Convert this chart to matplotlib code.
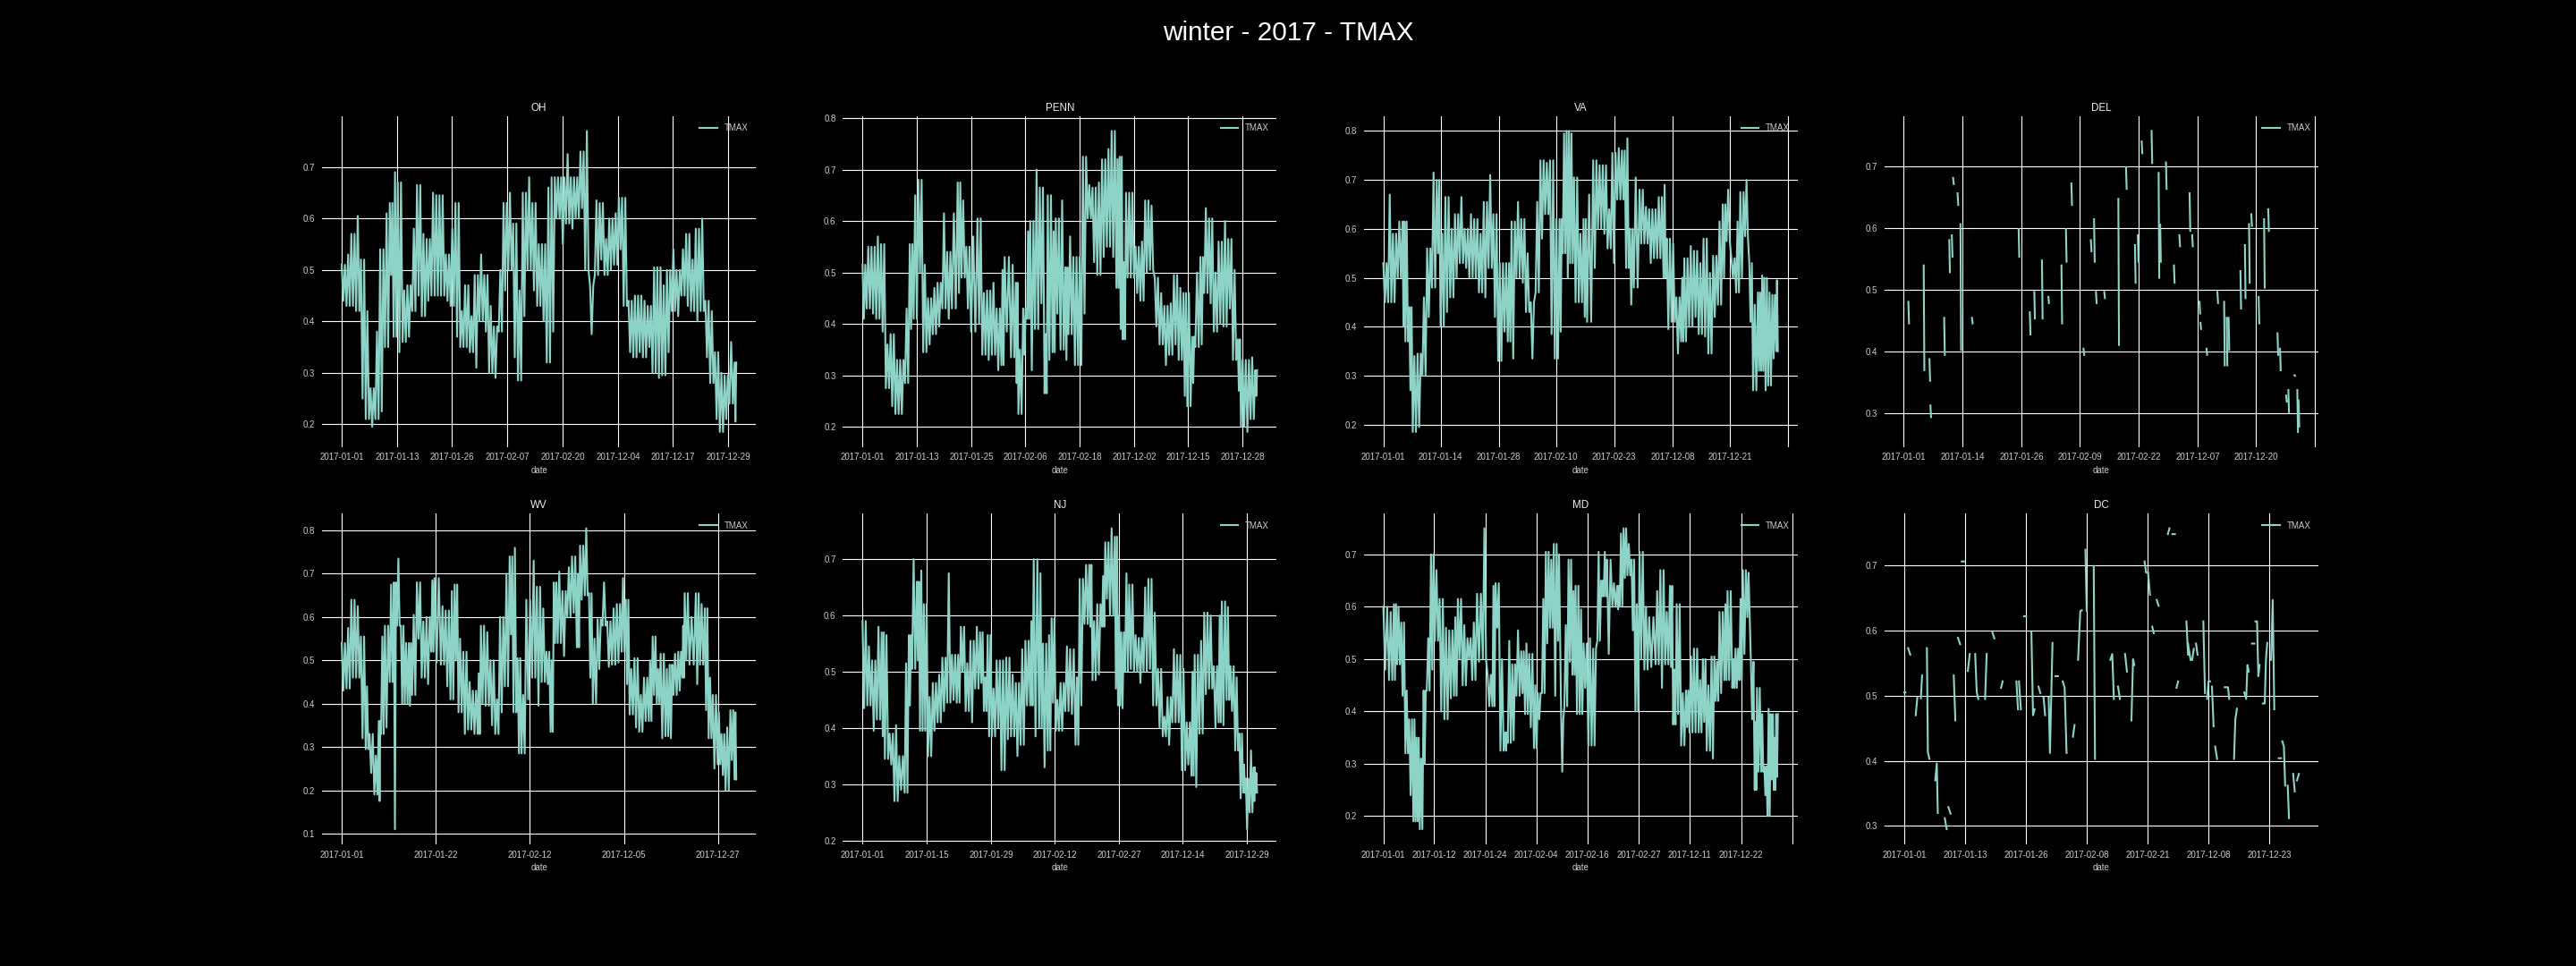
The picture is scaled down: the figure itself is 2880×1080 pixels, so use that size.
import numpy as np
import matplotlib
matplotlib.use('Agg')
import matplotlib.pyplot as plt

# dense panels: row numbers with the high and low value read around each row
oh_rows = [175,190,205,220,235,250,265,280,295,310,325,337,350,365,380,395,410,425,440,455,470,485,500,515,530,545,560,575,590,605,620,635,650,665,680,695,710,725,740,755,770,785,800,815,830,845,860,875,890,905,920,935,950,965,980,995,1010,1025,1040,1055,1070,1085,1100,1115,1130,1145,1160,1175,1190,1205,1220,1235,1250,1265,1280,1295,1310,1325,1340,1355,1370,1385,1401]
oh_high = [.51,.53,.57,.605,.52,.42,.27,.38,.54,.61,.63,.69,.67,.46,.47,.58,.665,.57,.56,.65,.645,.645,.53,.58,.63,.42,.47,.41,.49,.53,.49,.43,.39,.50,.63,.65,.59,.46,.65,.68,.63,.55,.55,.66,.68,.68,.68,.725,.68,.68,.73,.77,.47,.635,.63,.56,.60,.61,.64,.64,.44,.45,.45,.44,.43,.505,.505,.47,.50,.54,.50,.54,.57,.52,.58,.60,.44,.42,.34,.30,.295,.36,.32]
oh_low = [.44,.43,.43,.42,.25,.21,.195,.21,.225,.35,.49,.37,.34,.36,.37,.42,.45,.41,.44,.45,.45,.45,.44,.43,.37,.35,.35,.34,.31,.40,.38,.30,.29,.38,.46,.50,.33,.285,.41,.50,.46,.43,.40,.32,.38,.60,.55,.59,.58,.60,.62,.50,.375,.49,.52,.49,.50,.51,.54,.43,.34,.33,.34,.33,.35,.30,.29,.295,.34,.42,.41,.45,.43,.42,.40,.42,.33,.28,.21,.185,.21,.24,.205]
oh_ticks = [175,348,519,692,864,1037,1208,1381]
oh_labels = ['2017-01-01','2017-01-13','2017-01-26','2017-02-07','2017-02-20','2017-12-04','2017-12-17','2017-12-29']

penn_rows = [180,193,208,223,238,253,268,283,298,313,328,340,355,370,385,400,415,430,445,460,478,490,505,520,540,555,570,585,600,615,625,645,660,668,683,695,705,720,735,750,760,775,785,800,815,825,840,855,870,885,900,915,930,945,960,975,985,995,1005,1020,1035,1050,1065,1080,1095,1110,1125,1140,1155,1170,1185,1197,1212,1222,1238,1250,1265,1280,1295,1310,1325,1340,1355,1365,1380,1395,1410]
penn_high = [.515,.55,.55,.57,.555,.36,.38,.33,.33,.43,.555,.65,.68,.515,.45,.47,.48,.615,.54,.615,.675,.64,.55,.57,.605,.46,.465,.48,.43,.505,.53,.515,.48,.35,.43,.58,.60,.70,.665,.38,.65,.58,.605,.64,.51,.57,.53,.53,.725,.67,.665,.675,.72,.74,.775,.72,.725,.52,.655,.655,.55,.56,.64,.63,.49,.46,.435,.44,.495,.47,.46,.46,.375,.50,.53,.625,.605,.50,.56,.60,.565,.505,.37,.33,.33,.335,.31]
penn_low = [.41,.43,.42,.41,.385,.275,.24,.225,.225,.285,.39,.41,.50,.345,.36,.38,.395,.43,.41,.43,.46,.49,.43,.385,.40,.34,.33,.34,.31,.32,.385,.335,.285,.225,.34,.41,.31,.39,.44,.265,.33,.345,.42,.35,.33,.38,.32,.32,.42,.605,.52,.495,.53,.55,.53,.47,.39,.37,.49,.49,.46,.445,.50,.505,.395,.36,.32,.34,.36,.33,.26,.24,.285,.355,.36,.46,.44,.385,.40,.395,.43,.33,.27,.20,.19,.215,.26]
penn_ticks = [180,351,522,690,860,1031,1199,1370]
penn_labels = ['2017-01-01','2017-01-13','2017-01-25','2017-02-06','2017-02-18','2017-12-02','2017-12-15','2017-12-28']

va_rows = [189,204,219,234,249,258,270,281,296,311,326,341,356,368,383,398,413,428,443,458,473,488,503,518,533,548,563,578,590,605,620,635,650,665,680,695,710,725,740,750,762,773,785,800,815,826,845,860,875,890,905,920,935,948,960,972,990,1005,1020,1035,1050,1065,1075,1090,1105,1120,1130,1145,1160,1175,1190,1205,1220,1235,1250,1262,1277,1292,1305,1320,1333,1345,1360,1370,1380,1392,1405,1417]
va_high = [.53,.67,.59,.615,.615,.615,.44,.34,.345,.46,.56,.715,.70,.59,.665,.60,.63,.665,.60,.63,.62,.59,.655,.71,.63,.53,.53,.53,.615,.655,.62,.55,.45,.655,.74,.735,.74,.62,.62,.795,.80,.795,.705,.59,.62,.67,.74,.73,.73,.64,.755,.765,.76,.785,.60,.705,.68,.645,.64,.64,.665,.69,.58,.57,.46,.50,.54,.565,.555,.53,.58,.51,.545,.615,.65,.68,.54,.615,.675,.70,.53,.445,.47,.505,.50,.47,.465,.495]
va_low = [.45,.45,.45,.50,.40,.37,.27,.185,.195,.30,.42,.48,.55,.40,.43,.46,.50,.53,.52,.50,.50,.47,.46,.52,.42,.33,.39,.37,.335,.50,.49,.43,.335,.47,.58,.63,.385,.335,.39,.55,.50,.53,.45,.45,.42,.41,.52,.60,.59,.56,.53,.66,.66,.52,.445,.48,.57,.57,.53,.54,.54,.50,.395,.41,.345,.37,.37,.40,.42,.385,.38,.345,.42,.445,.50,.575,.50,.47,.50,.585,.41,.27,.31,.31,.27,.28,.335,.35]
va_ticks = [189,368,550,729,911,1093,1273,1454]
va_labels = ['2017-01-01','2017-01-14','2017-01-28','2017-02-10','2017-02-23','2017-12-08','2017-12-21','']

wv_rows = [175,190,205,220,235,250,262,277,291,298,310,325,338,348,360,372,385,395,410,425,440,455,465,485,500,515,528,540,555,570,585,600,610,625,640,655,670,685,700,712,725,737,752,770,785,800,815,828,838,850,865,880,895,910,920,935,948,960,975,990,1005,1020,1035,1050,1063,1075,1090,1105,1120,1135,1147,1160,1172,1187,1200,1212,1227,1240,1247,1262,1282,1295,1310,1322,1335,1350,1362,1375,1390,1403]
wv_high = [.54,.575,.64,.625,.555,.44,.33,.28,.36,.555,.58,.675,.68,.735,.58,.54,.54,.605,.68,.59,.60,.685,.69,.625,.615,.66,.675,.55,.52,.45,.43,.47,.58,.565,.50,.41,.60,.70,.74,.76,.505,.42,.64,.73,.67,.62,.52,.50,.68,.705,.66,.715,.74,.70,.765,.805,.655,.55,.595,.68,.59,.62,.63,.69,.64,.48,.505,.42,.46,.50,.555,.48,.515,.48,.49,.515,.52,.58,.655,.60,.655,.63,.62,.46,.42,.38,.33,.345,.385,.38]
wv_low = [.43,.435,.46,.46,.32,.295,.24,.19,.175,.33,.345,.45,.11,.58,.40,.40,.395,.42,.55,.46,.445,.52,.495,.49,.44,.41,.50,.38,.33,.34,.33,.33,.40,.395,.35,.33,.38,.44,.56,.38,.285,.285,.41,.46,.395,.45,.445,.335,.54,.54,.51,.60,.61,.53,.64,.65,.46,.40,.48,.58,.485,.49,.495,.52,.445,.375,.345,.335,.36,.36,.42,.40,.32,.325,.32,.42,.43,.46,.50,.49,.445,.49,.385,.32,.25,.26,.235,.20,.27,.225]
wv_ticks = [175,469,763,1057,1351]
wv_labels = ['2017-01-01','2017-01-22','2017-02-12','2017-12-05','2017-12-27']

nj_rows = [180,195,210,225,240,250,265,280,295,312,325,335,350,360,372,385,400,415,430,445,460,475,488,503,518,533,548,560,572,585,600,615,630,645,660,675,690,705,716,733,745,760,772,785,800,815,830,847,860,875,890,900,915,930,940,955,970,980,990,1002,1015,1030,1045,1060,1075,1090,1105,1120,1135,1150,1165,1180,1195,1210,1220,1235,1250,1265,1280,1295,1305,1320,1332,1347,1360,1372,1380,1392,1405,1410]
nj_high = [.59,.545,.52,.58,.57,.565,.39,.405,.35,.515,.565,.70,.66,.68,.62,.455,.48,.495,.525,.675,.53,.53,.58,.515,.555,.58,.57,.49,.565,.47,.52,.52,.525,.495,.48,.54,.555,.59,.70,.675,.55,.565,.595,.45,.48,.545,.54,.49,.665,.69,.69,.59,.62,.67,.73,.755,.74,.60,.57,.675,.655,.565,.56,.65,.665,.605,.505,.42,.455,.54,.53,.505,.41,.50,.53,.555,.605,.60,.51,.60,.625,.615,.51,.49,.39,.335,.31,.36,.33,.32]
nj_low = [.435,.44,.395,.415,.385,.345,.335,.27,.29,.285,.44,.505,.52,.395,.395,.35,.395,.41,.43,.445,.45,.445,.50,.43,.41,.47,.48,.43,.385,.385,.40,.325,.38,.385,.35,.37,.44,.44,.385,.40,.33,.36,.445,.395,.395,.43,.425,.37,.44,.585,.58,.485,.495,.58,.63,.60,.47,.44,.435,.50,.505,.50,.48,.50,.505,.44,.40,.385,.37,.41,.41,.325,.335,.315,.295,.39,.46,.47,.40,.41,.405,.45,.43,.36,.275,.285,.22,.25,.27,.285]
nj_ticks = [180,382,583,782,984,1183,1384]
nj_labels = ['2017-01-01','2017-01-15','2017-01-29','2017-02-12','2017-02-27','2017-12-14','2017-12-29']

md_rows = [189,207,222,232,245,258,270,283,293,303,315,325,338,350,365,380,395,410,422,437,452,467,482,500,515,530,540,555,570,578,592,605,620,632,645,660,672,685,697,710,722,735,745,755,768,780,790,803,815,830,845,858,870,878,888,905,920,928,940,952,965,977,990,1005,1020,1040,1055,1070,1085,1095,1106,1120,1135,1146,1160,1175,1188,1200,1215,1228,1240,1255,1265,1280,1290,1302,1313,1327,1338,1350,1357,1370,1380,1390,1400,1410,1417]
md_high = [.60,.59,.605,.60,.57,.44,.385,.385,.35,.31,.44,.54,.70,.67,.615,.56,.555,.58,.615,.565,.54,.57,.625,.75,.47,.64,.645,.50,.36,.535,.49,.555,.515,.53,.51,.45,.435,.615,.705,.69,.72,.70,.385,.565,.69,.63,.64,.595,.53,.54,.52,.705,.65,.705,.69,.645,.64,.74,.75,.72,.69,.605,.705,.60,.58,.63,.67,.59,.64,.48,.605,.435,.44,.505,.52,.46,.50,.45,.505,.495,.59,.605,.63,.50,.52,.615,.67,.665,.495,.38,.445,.395,.295,.405,.395,.35,.395]
md_low = [.48,.46,.46,.49,.43,.32,.24,.19,.19,.175,.30,.44,.48,.535,.40,.385,.425,.43,.50,.45,.50,.46,.495,.50,.41,.41,.56,.325,.325,.34,.345,.43,.435,.395,.37,.33,.385,.435,.53,.56,.43,.535,.285,.41,.495,.47,.395,.395,.445,.335,.335,.535,.62,.62,.51,.60,.595,.60,.655,.66,.555,.40,.50,.48,.485,.49,.445,.49,.485,.375,.395,.335,.37,.36,.36,.36,.38,.325,.31,.42,.435,.46,.46,.445,.445,.46,.51,.58,.385,.25,.285,.285,.24,.20,.27,.25,.275]
md_ticks = [189,348,508,667,827,987,1146,1308,1468]
md_labels = ['2017-01-01','2017-01-12','2017-01-24','2017-02-04','2017-02-16','2017-02-27','2017-12-11','2017-12-22','']

# sparse panels: short pieces of line, the None entries are the missing days
del_rows = [16,18,None,64,66,None,82,84,None,85,87,None,128,130,None,144,146,None,152,154,None,156,158,None,170,172,None,179,181,None,215,217,None,361,363,None,396,398,None,410,412,None,434,436,None,454,456,None,495,497,None,509,511,None,526,528,None,564,566,None,587,589,None,597,599,None,603,605,None,629,631,None,673,675,None,697,699,None,725,727,None,734,736,None,746,748,None,777,779,None,799,801,None,804,806,None,822,824,None,847,849,None,864,866,None,896,898,None,904,906,None,927,929,None,930,932,None,949,951,None,983,985,None,1004,1006,None,1012,1014,None,1018,1020,None,1055,1057,None,1069,1071,None,1082,1084,None,1089,1091,None,1112,1114,None,1129,1131,None,1142,1144,None,1171,1173,None,1179,1181,None,1198,1200,None,1205,1207,None,1224,1226,None,1233,1235,None,1237,1239]
del_vals = [.481,.446,None,.54,.37,None,.388,.353,None,.313,.294,None,.455,.395,None,.581,.529,None,.589,.554,None,.682,.672,None,.657,.638,None,.607,.403,None,.455,.446,None,.599,.554,None,.464,.428,None,.497,.454,None,.548,.454,None,.489,.479,None,.54,.446,None,.599,.546,None,.673,.638,None,.405,.395,None,.581,.563,None,.615,.546,None,.497,.479,None,.497,.487,None,.648,.411,None,.699,.664,None,.573,.512,None,.589,.546,None,.741,.722,None,.758,.706,None,.69,.52,None,.606,.546,None,.707,.664,None,.54,.512,None,.589,.571,None,.657,.596,None,.589,.571,None,.481,.462,None,.447,.437,None,.405,.395,None,.497,.479,None,.481,.378,None,.455,.378,None,.455,.403,None,.531,.47,None,.573,.487,None,.607,.512,None,.623,.604,None,.489,.446,None,.615,.504,None,.631,.596,None,.43,.395,None,.405,.37,None,.329,.319,None,.338,.302,None,.362,.361,None,.338,.27,None,.321,.279]
del_ticks = [0,185,370,552,737,922,1104,1289]
del_labels = ['2017-01-01','2017-01-14','2017-01-26','2017-02-09','2017-02-22','2017-12-07','2017-12-20','']

dc_rows = [0,4,None,12,19,None,36,41,None,52,56,None,71,74,79,None,97,102,105,None,127,133,None,138,145,None,155,160,None,168,175,None,180,187,None,199,205,None,222,227,232,None,253,258,None,276,282,None,303,308,None,351,356,None,359,365,None,375,381,None,398,403,408,None,420,426,None,436,441,None,452,456,464,None,473,481,None,496,502,508,None,528,533,None,544,551,556,None,567,571,None,593,597,None,645,651,656,None,669,675,None,691,697,None,711,716,720,None,752,757,None,763,769,None,776,781,None,790,796,None,825,830,None,839,847,None,852,857,None,883,888,None,888,896,None,901,906,None,913,918,None,936,941,None,948,952,957,None,963,968,None,973,979,None,1003,1013,1017,None,1032,1036,1041,None,1064,1070,1074,1078,None,1088,1096,None,1099,1104,1108,1112,None,1122,1128,1132,1136,None,1148,1153,1158,None,1172,1179,None,1183,1188,1192,None,1200,1204,None,1217,1222,None,1229,1235]
dc_vals = [.505,.505,None,.573,.563,None,.47,.497,None,.496,.531,None,.573,.413,.403,None,.37,.396,.32,None,.312,.295,None,.329,.319,None,.531,.462,None,.589,.579,None,.706,.706,None,.538,.564,None,.564,.505,.495,None,.495,.564,None,.597,.588,None,.512,.522,None,.522,.479,None,.522,.479,None,.622,.622,None,.597,.47,.479,None,.514,.504,None,.497,.47,None,.497,.412,.581,None,.53,.53,None,.522,.512,.412,None,.437,.455,None,.555,.63,.631,None,.724,.63,None,.699,.403,None,.555,.564,.495,None,.514,.495,None,.564,.537,None,.462,.556,.547,None,.706,.689,None,.689,.655,None,.606,.596,None,.647,.638,None,.748,.757,None,.748,.748,None,.512,.522,None,.614,.563,None,.58,.555,None,.555,.572,None,.58,.563,None,.614,.504,None,.495,.522,.522,None,.514,.453,None,.422,.403,None,.513,.513,.495,None,.403,.463,.48,None,.505,.495,.547,.537,None,.58,.58,None,.614,.614,.53,.547,None,.488,.488,.557,.581,None,.555,.647,.479,None,.404,.404,None,.43,.422,.362,None,.362,.312,None,.38,.353,None,.37,.38]
dc_ticks = [0,191,381,572,762,952,1143]
dc_labels = ['2017-01-01','2017-01-13','2017-01-26','2017-02-08','2017-02-21','2017-12-08','2017-12-23']


def zigzag(rows, high, low):
    # three swings per row, starting from the top on one row and the bottom on the next
    rows = np.array(rows, dtype=float)
    high = np.array(high)
    low = np.array(low)
    gaps = np.append(np.diff(rows), 8)
    odd = np.arange(len(rows)) % 2 == 1
    first = np.where(odd, low, high)
    second = np.where(odd, high, low)
    x = np.ravel(np.column_stack([rows, rows + gaps / 3, rows + gaps * 2 / 3]))
    y = np.ravel(np.column_stack([first, second, first]))
    return x, y


def drawPanel(ax, name, x, y, ticks, labels):
    ax.plot(x, y, color='#8dd3c7', linewidth=1.5, label='TMAX')
    ax.set_title(name, fontsize=8.4, color='#eeeeee', pad=4.2)
    ax.set_xlabel('date', fontsize=7, color='#cccccc', labelpad=3)
    ax.set_xticks(ticks)
    ax.set_xticklabels(labels)
    ax.tick_params(axis='x', length=0, labelsize=7, labelcolor='#cccccc', pad=4.8)
    ax.tick_params(axis='y', length=0, labelsize=7, labelcolor='#cccccc', pad=5.5)
    ax.grid(True, color='white', linewidth=0.8)
    ax.set_axisbelow(True)
    for side in ax.spines.values():
        side.set_visible(False)
    legend = ax.legend(loc='upper right', frameon=False, fontsize=7)
    for text in legend.get_texts():
        text.set_color('#cccccc')


plt.style.use('dark_background')
plt.rcParams['font.family'] = ['Liberation Sans', 'DejaVu Sans']

fig, axes = plt.subplots(2, 4, figsize=(28.8, 10.8), dpi=100)
fig.subplots_adjust(left=0.125, right=0.9, top=0.88, bottom=0.126, wspace=0.2, hspace=0.2)
fig.suptitle('winter - 2017 - TMAX', fontsize=21.4, color='white', y=0.979)

drawPanel(axes[0][0], 'OH', *zigzag(oh_rows, oh_high, oh_low), oh_ticks, oh_labels)
drawPanel(axes[0][1], 'PENN', *zigzag(penn_rows, penn_high, penn_low), penn_ticks, penn_labels)
drawPanel(axes[0][2], 'VA', *zigzag(va_rows, va_high, va_low), va_ticks, va_labels)
drawPanel(axes[0][3], 'DEL', np.array(del_rows, dtype=float), np.array(del_vals, dtype=float), del_ticks, del_labels)
drawPanel(axes[1][0], 'WV', *zigzag(wv_rows, wv_high, wv_low), wv_ticks, wv_labels)
drawPanel(axes[1][1], 'NJ', *zigzag(nj_rows, nj_high, nj_low), nj_ticks, nj_labels)
drawPanel(axes[1][2], 'MD', *zigzag(md_rows, md_high, md_low), md_ticks, md_labels)
drawPanel(axes[1][3], 'DC', np.array(dc_rows, dtype=float), np.array(dc_vals, dtype=float), dc_ticks, dc_labels)

# the sparse panels start on the first row and run on past the last piece
axes[0][3].set_xlim(-59, 1299)
axes[1][3].set_xlim(-62, 1296)

fig.savefig('out.png', dpi=100, facecolor='black')
